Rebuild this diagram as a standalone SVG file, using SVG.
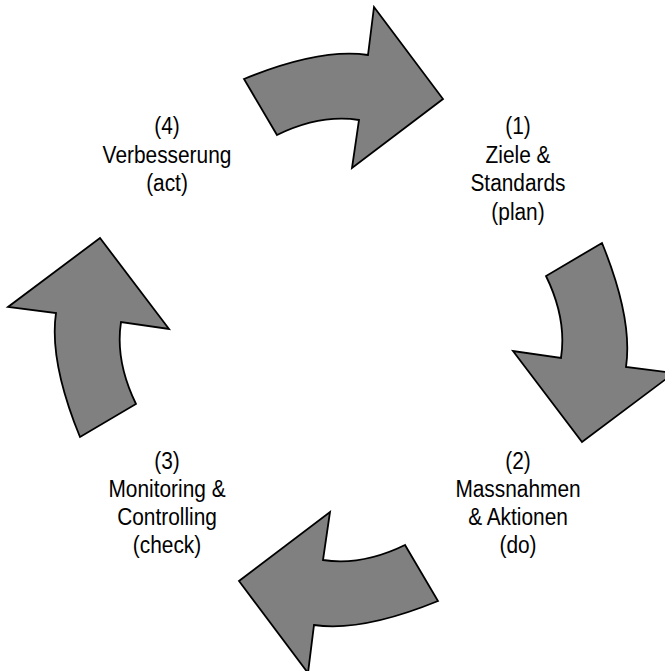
<svg xmlns="http://www.w3.org/2000/svg" width="665" height="671" viewBox="0 0 665 671">
<style>
.arrow{fill:#808080;stroke:#000;stroke-width:1.8;stroke-linejoin:miter}
.lbl{font-family:"Liberation Sans",Arial,sans-serif;font-size:24.7px;fill:#000;text-anchor:middle}
</style>
<defs>
<path id="arr" d="M244,79 Q320,48 368,55 L374,7 L443,99 L352,168 L359,120 Q320,114 277,135 Z"/>
</defs>
<rect width="665" height="671" fill="#fff"/>
<g id="connectors">
<use href="#arr" class="arrow" id="arrow-act-plan"/>
<use href="#arr" class="arrow" id="arrow-plan-do" transform="rotate(90 341 340)"/>
<use href="#arr" class="arrow" id="arrow-do-check" transform="rotate(180 341 340)"/>
<use href="#arr" class="arrow" id="arrow-check-act" transform="rotate(270 341 340)"/>
</g>
<g id="node-plan" transform="matrix(0.845 0 0 1 518 0)">
<text class="lbl" x="0" y="134.5">(1)</text>
<text class="lbl" x="0" y="163">Ziele &amp;</text>
<text class="lbl" x="0" y="191.5">Standards</text>
<text class="lbl" x="0" y="220">(plan)</text>
</g>
<g id="node-do" transform="matrix(0.845 0 0 1 518 0)">
<text class="lbl" x="0" y="469">(2)</text>
<text class="lbl" x="0" y="497">Massnahmen</text>
<text class="lbl" x="0" y="525">&amp; Aktionen</text>
<text class="lbl" x="0" y="553">(do)</text>
</g>
<g id="node-check" transform="matrix(0.845 0 0 1 167 0)">
<text class="lbl" x="0" y="469">(3)</text>
<text class="lbl" x="0" y="497">Monitoring &amp;</text>
<text class="lbl" x="0" y="525">Controlling</text>
<text class="lbl" x="0" y="553">(check)</text>
</g>
<g id="node-act" transform="matrix(0.845 0 0 1 167 0)">
<text class="lbl" x="0" y="134.5">(4)</text>
<text class="lbl" x="0" y="163">Verbesserung</text>
<text class="lbl" x="0" y="191.5">(act)</text>
</g>
</svg>
